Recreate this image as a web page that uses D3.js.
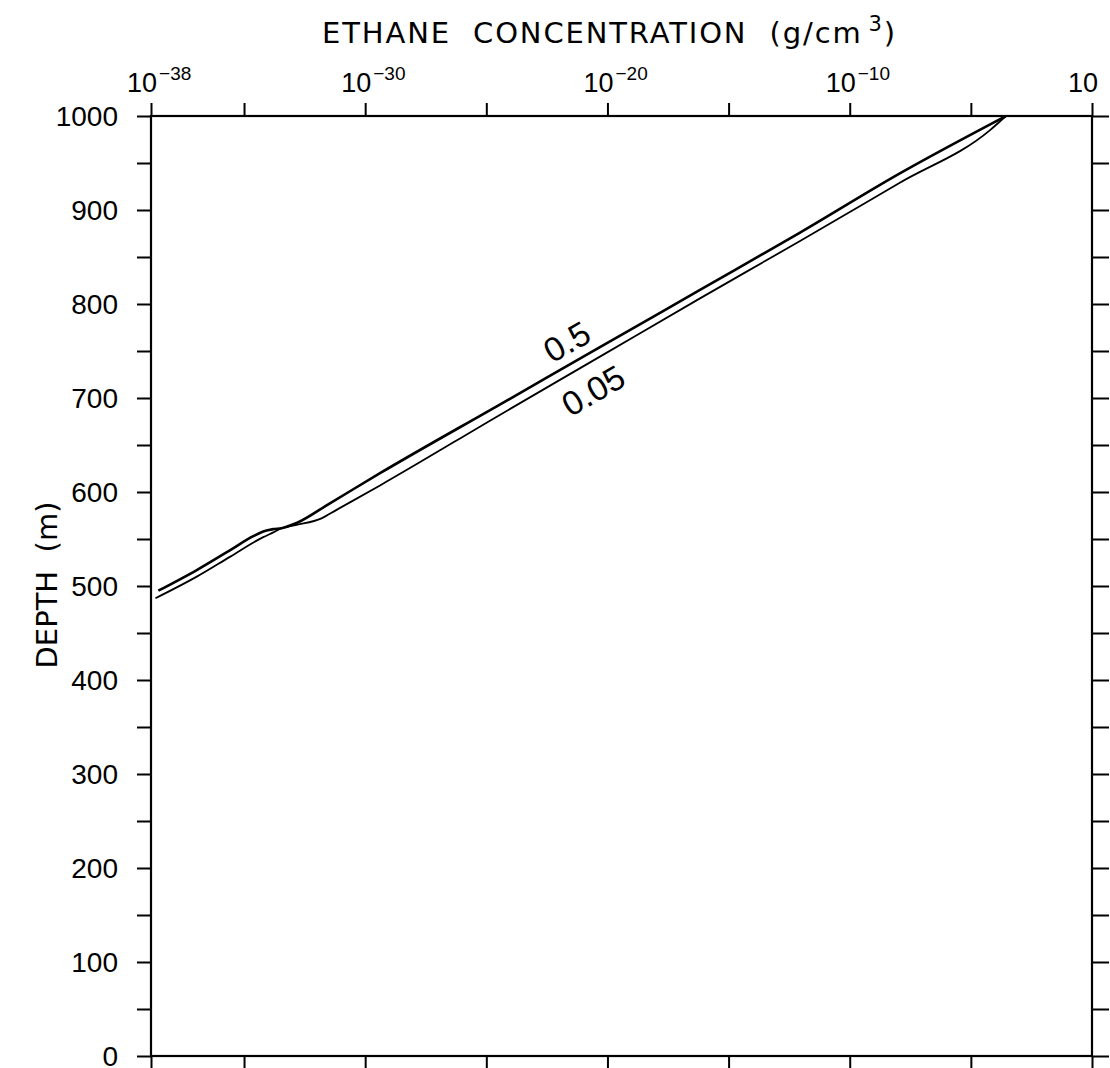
<!DOCTYPE html>
<html>
<head>
<meta charset="utf-8">
<script src="https://cdn.jsdelivr.net/npm/d3@7"></script>
<style>
  html, body { margin: 0; padding: 0; background: #fff; }
  svg { display: block; }
  text { font-family: "Liberation Sans", Arial, sans-serif; fill: #000; }
  .title { font-family: "DejaVu Sans", "Liberation Sans", sans-serif; }
</style>
</head>
<body>
<div id="chart"></div>
<script>
// ---- data ----
// curve for parameter 0.5 : depth (m) and ethane concentration (g/cm^3)
const depth05 = [495, 517, 538, 553, 558, 560.5, 561.5, 567, 588, 620, 693, 754, 815, 876, 939, 1000];
const conc05  = [2.9e-39, 1.12e-37, 2.6e-36, 2.4e-35, 6.2e-35, 1.62e-34, 3.5e-34, 1.48e-33, 3.5e-32, 4.1e-30,
                 3.6e-25, 4.9e-21, 6.6e-17, 8.9e-13, 1.17e-8, 2.8e-4];
// curve for parameter 0.05
const depth005 = [487, 510, 531, 552, 557, 561.4, 565, 572, 581, 607, 682, 744, 806, 867, 929, 985, 1000];
const conc005  = [2.2e-39, 1.12e-37, 2.6e-36, 6.2e-35, 1.62e-34, 3.5e-34, 1.48e-33, 1.58e-32, 6.6e-32, 4.1e-30,
                  3.6e-25, 4.9e-21, 6.6e-17, 8.9e-13, 1.17e-8, 6.2e-5, 2.8e-4];
const curveLabels = ["0.5", "0.05"];
const labelConc = [2.1e-22, 2.6e-21];
const labelDepth = [760, 708];

// axis ticks
const xMinValue = 1.445e-39;              // left edge of the axis
const xTickValues = [xMinValue, 1e-35, 1e-30, 1e-25, 1e-20, 1e-15, 1e-10, 1e-5, 1];
const xLabelValues = [xMinValue, 1e-30, 1e-20, 1e-10, 1];
const xLabelExponents = ["-38", "-30", "-20", "-10", ""];
const yTickValues = d3.range(0, 1001, 50);
const yLabelValues = [0, 100, 200, 300, 400, 500, 600, 700, 800, 900, 1000];
const xTitle = "ETHANE  CONCENTRATION  (g/cm";
const yTitle = "DEPTH  (m)";

// ---- layout ----
const W = 1110, H = 1068;
const mLeft = 151, mRight = 1092, mTop = 116, mBottom = 1056;

const svg = d3.select("#chart").append("svg").attr("width", W).attr("height", H);

const x = d3.scaleLog().domain([xMinValue, 1]).range([mLeft, mRight]);
const y = d3.scaleLinear().domain([0, 1000]).range([mBottom, mTop]);

const axisStyle = g => {
  g.select(".domain").remove();
  g.selectAll(".tick line").attr("stroke", "#000").attr("stroke-width", 2);
  g.selectAll(".tick text").remove();
};

svg.append("g").attr("transform", `translate(0,${mTop})`)
  .call(d3.axisTop(x).tickValues(xTickValues).tickSize(13).tickSizeOuter(0)).call(axisStyle);
svg.append("g").attr("transform", `translate(0,${mBottom})`)
  .call(d3.axisBottom(x).tickValues(xTickValues).tickSize(13).tickSizeOuter(0)).call(axisStyle);
svg.append("g").attr("transform", `translate(${mLeft},0)`)
  .call(d3.axisLeft(y).tickValues(yTickValues).tickSize(14).tickSizeOuter(0)).call(axisStyle);
svg.append("g").attr("transform", `translate(${mRight},0)`)
  .call(d3.axisRight(y).tickValues(yTickValues).tickSize(17).tickSizeOuter(0)).call(axisStyle);

// frame
svg.append("rect").attr("x", mLeft).attr("y", mTop)
  .attr("width", mRight - mLeft).attr("height", mBottom - mTop)
  .attr("fill", "none").attr("stroke", "#000").attr("stroke-width", 2.2);

// x tick labels 10^n
xLabelValues.forEach((v, i) => {
  const t = svg.append("text").attr("x", x(v) - 24).attr("y", 92)
    .attr("font-size", 27).attr("text-anchor", "start");
  t.append("tspan").text("10");
  if (xLabelExponents[i]) {
    t.append("tspan").attr("font-size", 19).attr("dy", -12).attr("dx", 2).text(xLabelExponents[i].replace("-", "\u2212"));
  }
});

// y tick labels
svg.selectAll(".ylab").data(yLabelValues).join("text")
  .attr("class", "ylab")
  .attr("x", 118).attr("y", d => y(d) + 10)
  .attr("text-anchor", "end").attr("font-size", 28)
  .text(d => d);

// x title, fitted to the width it has in the reference
const tt = svg.append("text").attr("class", "title").attr("x", 322).attr("y", 43)
  .attr("text-anchor", "start").attr("font-size", 29).style("white-space", "pre");
tt.append("tspan").text(xTitle);
tt.append("tspan").attr("font-size", 21).attr("dy", -12).attr("dx", 6).text("3");
tt.append("tspan").attr("dy", 12).text(")");
{
  const w = tt.node().getComputedTextLength();
  const n = xTitle.length + 2;
  tt.style("letter-spacing", Math.max(0, (569 - w) / n) + "px");
}

svg.append("text").attr("class", "title")
  .attr("transform", `translate(57,585) rotate(-90)`)
  .attr("text-anchor", "middle").attr("font-size", 29).style("white-space", "pre")
  .text(yTitle);

// curves
const line = d3.line().x(d => x(d[0])).y(d => y(d[1])).curve(d3.curveMonotoneX);
const data05 = conc05.map((c, i) => [c, depth05[i]]);
const data005 = conc005.map((c, i) => [c, depth005[i]]);

svg.append("path").datum(data05).attr("d", line)
  .attr("fill", "none").attr("stroke", "#000").attr("stroke-width", 2.6).attr("stroke-linejoin", "round");
svg.append("path").datum(data005).attr("d", line)
  .attr("fill", "none").attr("stroke", "#000").attr("stroke-width", 1.8).attr("stroke-linejoin", "round");

// curve labels, rotated along the lines
const angle = -Math.atan2(y(depth05[9]) - y(depth05[14]), x(conc05[14]) - x(conc05[9])) * 180 / Math.PI;
curveLabels.forEach((lab, i) => {
  svg.append("text")
    .attr("transform", `translate(${x(labelConc[i])},${y(labelDepth[i])}) rotate(${angle})`)
    .attr("text-anchor", "middle").attr("dominant-baseline", "central")
    .attr("font-size", 34).text(lab);
});
</script>
</body>
</html>
